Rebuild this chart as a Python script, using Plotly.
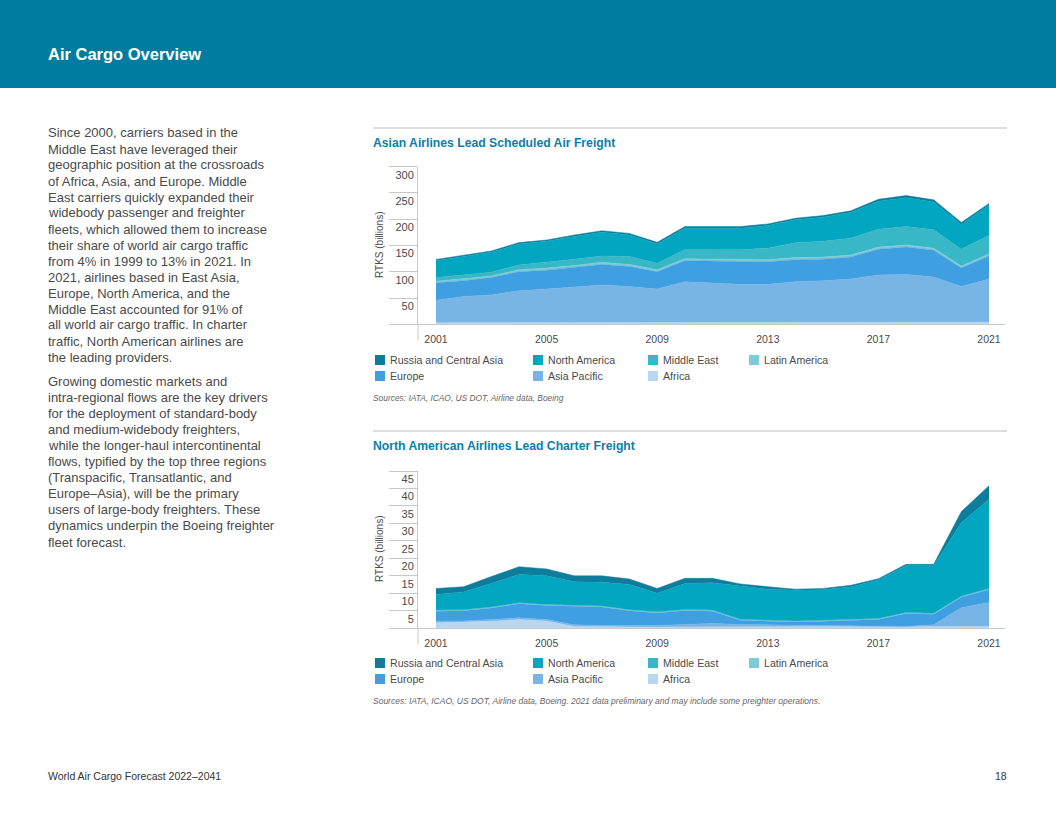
import plotly.graph_objects as go

W, H = 1056, 816

# ---------------- data ----------------
years = list(range(2001, 2022))
regions = ["Africa", "Asia Pacific", "Europe", "Latin America", "Middle East",
           "North America", "Russia and Central Asia"]

# Scheduled freight (RTKs, billions)
sched_africa = [3, 3, 3, 3, 3, 3, 3, 3, 3, 3, 3, 3, 3, 3, 3, 3, 4, 4, 4, 4, 4]
sched_asia_pacific = [43, 50, 53, 61, 64, 68, 72, 69, 64, 78, 76, 73, 73, 78, 80, 83, 90, 91, 86, 68, 82]
sched_europe = [33, 30, 33, 36, 36, 37, 39, 38, 33, 40, 41, 43, 43, 42, 41, 42, 49, 52, 51, 35, 44]
sched_latin_america = [3, 3.5, 3, 4, 4, 4, 4, 4, 4, 4, 4, 4, 4, 4, 4, 4, 4, 4, 4, 4, 4]
sched_middle_east = [7, 7.5, 7, 9, 11, 12, 12, 15, 12, 17, 18, 19, 22, 28, 30, 32, 34, 35, 35, 32, 35]
sched_north_america = [32, 35, 38, 40, 40, 43, 45, 41, 37, 41, 41, 41, 43, 44, 46, 49, 53, 55, 53, 47, 58]
sched_russia = [2.5, 2.5, 2.5, 2.5, 2.5, 3, 3, 3, 3, 3, 3, 3, 3, 3, 3, 3, 4, 4, 4, 4, 3]

# Charter freight (RTKs, billions)
ch_africa = [1.6, 1.7, 2.0, 2.5, 2.1, 0.5, 0.4, 0.3, 0.3, 0.4, 0.4, 0.3, 0.3, 0.3, 0.3, 0.3, 0.3, 0.3, 0.3, 0.5, 0.5]
ch_asia_pacific = [0.5, 0.4, 0.5, 0.5, 0.4, 0.5, 0.4, 0.4, 0.5, 0.7, 1.0, 0.8, 0.7, 0.55, 0.55, 0.55, 0.3, 0.2, 0.7, 5.4, 6.9]
ch_europe = [2.8, 2.9, 3.3, 4.0, 4.0, 5.2, 5.3, 4.3, 3.6, 4.0, 3.5, 1.2, 1.0, 0.95, 1.15, 1.35, 1.9, 3.7, 3.0, 3.0, 3.7]
ch_latin_america = [0.15, 0.15, 0.15, 0.15, 0.15, 0.15, 0.15, 0.15, 0.15, 0.15, 0.15, 0.15, 0.15, 0.15, 0.15, 0.15, 0.15, 0.15, 0.15, 0.15, 0.15]
ch_middle_east = [0.15, 0.15, 0.15, 0.15, 0.15, 0.15, 0.15, 0.15, 0.15, 0.15, 0.15, 0.15, 0.15, 0.15, 0.15, 0.15, 0.15, 0.15, 0.15, 0.15, 0.15]
ch_north_america = [4.5, 5.1, 6.7, 8.1, 8.2, 6.8, 6.8, 7.2, 5.3, 7.4, 7.8, 9.4, 8.9, 8.8, 8.7, 9.3, 11.0, 13.4, 13.6, 21.0, 25.5]
ch_russia = [1.7, 1.5, 2.0, 2.2, 2.0, 1.7, 1.8, 1.6, 1.4, 1.5, 1.3, 0.7, 0.7, 0.3, 0.4, 0.5, 0.4, 0.4, 0.4, 3.2, 3.9]

x_tickvals = [2001, 2005, 2009, 2013, 2017, 2021]
sched_yticks = [0, 50, 100, 150, 200, 250, 300]
ch_yticks = [0, 5, 10, 15, 20, 25, 30, 35, 40, 45]

colors = {
    "Russia and Central Asia": "#0f7c9c",
    "North America": "#02a6c0",
    "Middle East": "#38b7c7",
    "Latin America": "#7dcbd7",
    "Europe": "#3f9fe0",
    "Asia Pacific": "#78b5e7",
    "Africa": "#b9d7f1",
}

sched = [sched_africa, sched_asia_pacific, sched_europe, sched_latin_america,
         sched_middle_east, sched_north_america, sched_russia]
charter = [ch_africa, ch_asia_pacific, ch_europe, ch_latin_america,
           ch_middle_east, ch_north_america, ch_russia]

paragraph1 = [
    "Since 2000, carriers based in the", "Middle East have leveraged their",
    "geographic position at the crossroads", "of Africa, Asia, and Europe. Middle",
    "East carriers quickly expanded their", "widebody passenger and freighter",
    "fleets, which allowed them to increase", "their share of world air cargo traffic",
    "from 4% in 1999 to 13% in 2021. In", "2021, airlines based in East Asia,",
    "Europe, North America, and the", "Middle East accounted for 91% of",
    "all world air cargo traffic. In charter", "traffic, North American airlines are",
    "the leading providers.",
]
paragraph2 = [
    "Growing domestic markets and", "intra-regional flows are the key drivers",
    "for the deployment of standard-body", "and medium-widebody freighters,",
    "while the longer-haul intercontinental", "flows, typified by the top three regions",
    "(Transpacific, Transatlantic, and", "Europe\u2013Asia), will be the primary",
    "users of large-body freighters. These", "dynamics underpin the Boeing freighter",
    "fleet forecast.",
]

# ---------------- helpers (pixel -> paper) ----------------
def px(x):
    return x / W

def py(y):
    return 1 - y / H

FONT = "Liberation Sans, Arial, sans-serif"
TEXT = "#4a4a4a"
AXC = "#c8c8c8"

fig = go.Figure()

for vals, name in zip(sched, regions):
    fig.add_trace(go.Scatter(
        x=years, y=vals, name=name, mode="lines", stackgroup="sched",
        line=dict(width=0.5, color=colors[name]), fillcolor=colors[name],
        xaxis="x", yaxis="y", showlegend=False, hoverinfo="x+y+name"))

for vals, name in zip(charter, regions):
    fig.add_trace(go.Scatter(
        x=years, y=vals, name=name, mode="lines", stackgroup="charter",
        line=dict(width=0.5, color=colors[name]), fillcolor=colors[name],
        xaxis="x2", yaxis="y2", showlegend=False, hoverinfo="x+y+name"))

xdom = [px(418), px(1005)]
xrange_ = [2001 - 18 / 27.65, 2021 + 16 / 27.65]

def xaxis_cfg(anchor):
    return dict(domain=xdom, range=xrange_, anchor=anchor, tickvals=x_tickvals,
                showline=True, linecolor=AXC, linewidth=1, showgrid=False,
                zeroline=False, ticks="", ticklabelstandoff=5,
                tickfont=dict(family=FONT, size=10.5, color=TEXT), fixedrange=True)

def yaxis_cfg(anchor, dom, rng, tv):
    return dict(domain=dom, range=rng, anchor=anchor, tickvals=tv,
                ticktext=[""] + [str(v) for v in tv[1:]],
                showline=True, linecolor=AXC, linewidth=1, showgrid=False,
                zeroline=False, ticks="outside", ticklen=28, tickcolor=AXC,
                tickwidth=1, ticklabelstandoff=-27, ticklabelshift=8,
                tickfont=dict(family=FONT, size=11, color=TEXT), fixedrange=True)

shapes = [
    dict(type="rect", xref="paper", yref="paper", x0=0, x1=1, y0=py(88), y1=1,
         fillcolor="#007ca0", line=dict(width=0), layer="below"),
    dict(type="line", xref="paper", yref="paper", x0=px(373), x1=px(1007),
         y0=py(128), y1=py(128), line=dict(color="#bdbdbd", width=1)),
    dict(type="line", xref="paper", yref="paper", x0=px(373), x1=px(1007),
         y0=py(431), y1=py(431), line=dict(color="#bdbdbd", width=1)),
    dict(type="line", xref="paper", yref="paper", x0=px(418), x1=px(418),
         y0=py(324), y1=py(340), line=dict(color=AXC, width=1)),
    dict(type="line", xref="paper", yref="paper", x0=px(418), x1=px(418),
         y0=py(628), y1=py(644), line=dict(color=AXC, width=1)),
]

annotations = [
    dict(text="<b>Air Cargo Overview</b>", x=px(46), y=py(54), xref="paper", yref="paper",
         xanchor="left", yanchor="middle", showarrow=False,
         font=dict(family=FONT, size=16.5, color="white")),
    dict(text="<b>Asian Airlines Lead Scheduled Air Freight</b>", x=px(371), y=py(143),
         xref="paper", yref="paper", xanchor="left", yanchor="middle", showarrow=False,
         font=dict(family=FONT, size=12.2, color="#0b7fa6")),
    dict(text="<b>North American Airlines Lead Charter Freight</b>", x=px(371), y=py(446),
         xref="paper", yref="paper", xanchor="left", yanchor="middle", showarrow=False,
         font=dict(family=FONT, size=12.2, color="#0b7fa6")),
    dict(text="RTKS (billions)", x=px(379), y=py(245), xref="paper", yref="paper",
         xanchor="center", yanchor="middle", textangle=-90, showarrow=False,
         font=dict(family=FONT, size=10, color=TEXT)),
    dict(text="RTKS (billions)", x=px(379), y=py(549), xref="paper", yref="paper",
         xanchor="center", yanchor="middle", textangle=-90, showarrow=False,
         font=dict(family=FONT, size=10, color=TEXT)),
    dict(text="<i>Sources: IATA, ICAO, US DOT, Airline data, Boeing</i>", x=px(371), y=py(398),
         xref="paper", yref="paper", xanchor="left", yanchor="middle", showarrow=False,
         font=dict(family=FONT, size=8.4, color="#666666")),
    dict(text="<i>Sources: IATA, ICAO, US DOT, Airline data, Boeing. 2021 data preliminary and may include some preighter operations.</i>",
         x=px(371), y=py(701), xref="paper", yref="paper", xanchor="left", yanchor="middle",
         showarrow=False, font=dict(family=FONT, size=8.5, color="#666666")),
    dict(text="World Air Cargo Forecast 2022\u20132041", x=px(46), y=py(776), xref="paper",
         yref="paper", xanchor="left", yanchor="middle", showarrow=False,
         font=dict(family=FONT, size=10.5, color="#333333")),
    dict(text="18", x=px(1009), y=py(776), xref="paper", yref="paper", xanchor="right",
         yanchor="middle", showarrow=False, font=dict(family=FONT, size=10.5, color="#333333")),
]

# body text, one annotation per line
for lines, y0, step in ((paragraph1, 133, 16.0), (paragraph2, 381, 16.1)):
    for i, line in enumerate(lines):
        annotations.append(dict(text=line, x=px(46), y=py(y0 + step * i), xref="paper",
                                yref="paper", xanchor="left", yanchor="middle",
                                showarrow=False,
                                font=dict(family=FONT, size=13, color=TEXT)))

# legend (custom layout: squares + labels)
legend_layout = [
    ("Russia and Central Asia", 375, 0), ("North America", 533, 0),
    ("Middle East", 648, 0), ("Latin America", 749, 0),
    ("Europe", 375, 1), ("Asia Pacific", 533, 1), ("Africa", 648, 1),
]
for row0 in (360, 663):
    for name, lx, r in legend_layout:
        cy = row0 + 16 * r
        shapes.append(dict(type="rect", xref="paper", yref="paper",
                           x0=px(lx), x1=px(lx + 10), y0=py(cy + 5), y1=py(cy - 5),
                           fillcolor=colors[name], line=dict(width=0)))
        annotations.append(dict(text=name, x=px(lx + 13), y=py(cy), xref="paper",
                                yref="paper", xanchor="left", yanchor="middle",
                                showarrow=False,
                                font=dict(family=FONT, size=10.6, color=TEXT)))

fig.update_layout(
    width=W, height=H, autosize=False, margin=dict(l=0, r=0, t=0, b=0),
    paper_bgcolor="white", plot_bgcolor="white", showlegend=False,
    xaxis=xaxis_cfg("y"),
    yaxis=yaxis_cfg("x", [py(324.3), py(166.7)], [0, 300], sched_yticks),
    xaxis2=xaxis_cfg("y2"),
    yaxis2=yaxis_cfg("x2", [py(628.3), py(471)], [0, 45], ch_yticks),
    shapes=shapes, annotations=annotations,
    font=dict(family=FONT, color=TEXT),
)

fig.write_html(
    "out.html",
    config={"displayModeBar": False},
    post_script=(
        "document.body.style.margin='0';document.body.style.padding='0';"
        "document.documentElement.style.overflow='hidden';"
        "var gd=document.getElementById('{plot_id}');"
        "gd.style.position='fixed';gd.style.top='0px';gd.style.left='0px';"
    ),
)
